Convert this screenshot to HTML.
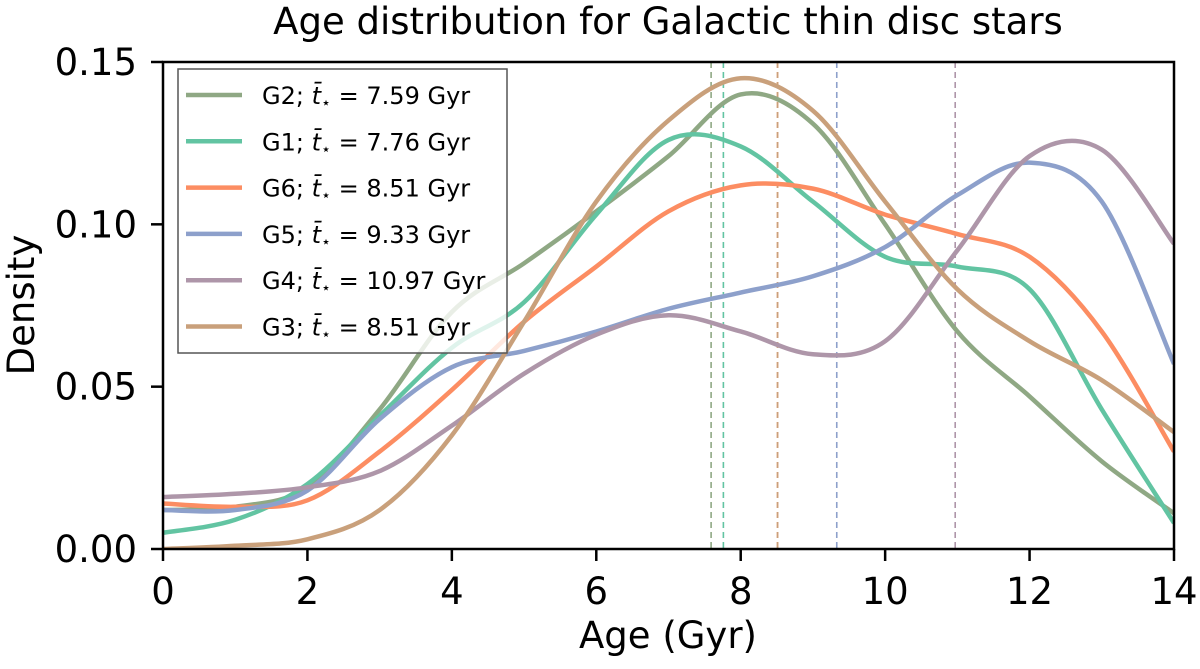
<!DOCTYPE html>
<html><head><meta charset="utf-8"><style>
body{margin:0;background:#fff;}
svg{display:block;font-family:"DejaVu Sans","Liberation Sans",sans-serif;}
</style></head><body>
<svg id="chart" width="1200" height="669" viewBox="0 0 1200 669" xmlns="http://www.w3.org/2000/svg">
<text x="668" y="34" font-size="37" text-anchor="middle">Age distribution for Galactic thin disc stars</text>
<g id="plot"></g>
<text x="668" y="648" font-size="37" text-anchor="middle">Age (Gyr)</text>
<text transform="translate(34,305) rotate(-90)" font-size="37" text-anchor="middle">Density</text>
</svg>
<script>
const ages = [0,1,2,3,4,5,6,7,8,9,10,11,12,13,14];
const seriesNames = ["G2","G1","G6","G5","G4","G3"];
const g2 = [0.012,0.013,0.019,0.043,0.073,0.088,0.104,0.121,0.140,0.131,0.100,0.067,0.047,0.027,0.011];
const g1 = [0.005,0.009,0.020,0.041,0.062,0.076,0.103,0.126,0.124,0.107,0.090,0.087,0.080,0.043,0.008];
const g6 = [0.014,0.013,0.015,0.030,0.049,0.070,0.087,0.104,0.112,0.111,0.103,0.097,0.090,0.067,0.030];
const g5 = [0.012,0.012,0.018,0.040,0.056,0.061,0.067,0.074,0.079,0.084,0.093,0.109,0.119,0.107,0.057];
const g4 = [0.016,0.017,0.019,0.024,0.038,0.054,0.066,0.072,0.067,0.060,0.064,0.092,0.121,0.123,0.094];
const g3 = [0.000,0.001,0.003,0.012,0.035,0.070,0.107,0.132,0.145,0.135,0.107,0.080,0.064,0.052,0.036];
const means = [7.59,7.76,8.51,9.33,10.97,8.51];
const legendPrefix = ["G2; ","G1; ","G6; ","G5; ","G4; ","G3; "];
const legendValues = ["7.59","7.76","8.51","9.33","10.97","8.51"];
const xTicks = [0,2,4,6,8,10,12,14];
const yTicks = [0,0.05,0.10,0.15];
const yTickLabels = ["0.00","0.05","0.10","0.15"];

const allSeries=[g2,g1,g6,g5,g4,g3];
const colors=["#8fa884","#62c4a2","#fc8d62","#8da0cb","#ae96a9","#c9a07b"];
const X0=163,X1=1174,Y0=549,Y1=62;
const xs=v=>X0+(v-0)/(14-0)*(X1-X0);
const ys=v=>Y0-(v/0.15)*(Y0-Y1);
const NS="http://www.w3.org/2000/svg";
const plot=document.getElementById('plot');
function mk(t,a,p){const e=document.createElementNS(NS,t);for(const k in a)e.setAttribute(k,a[k]);(p||plot).appendChild(e);return e;}
const clip=mk('clipPath',{id:'cp'});mk('rect',{x:X0,y:Y1,width:X1-X0,height:Y0-Y1},clip);
means.forEach((m,i)=>{const l=mk('line',{x1:xs(m),x2:xs(m),y1:Y1,y2:Y0,stroke:colors[i],'stroke-width':1.6,'stroke-dasharray':'6,4'});

});
function path(vals){const p=ages.map((a,i)=>[xs(a),ys(vals[i])]);let d='M'+p[0][0]+','+p[0][1];
for(let i=0;i<p.length-1;i++){const a=p[Math.max(i-1,0)],b=p[i],c=p[i+1],e=p[Math.min(i+2,p.length-1)];
d+=' C'+(b[0]+(c[0]-a[0])/6)+','+(b[1]+(c[1]-a[1])/6)+' '+(c[0]-(e[0]-b[0])/6)+','+(c[1]-(e[1]-b[1])/6)+' '+c[0]+','+c[1];}return d;}
allSeries.forEach((s,i)=>{const el=mk('path',{d:path(s),fill:'none',stroke:colors[i],'stroke-width':4.5,'clip-path':'url(#cp)'});

});
const lg=mk('g',{});


mk('rect',{x:178,y:69,width:329,height:284,fill:'rgba(255,255,255,0.8)',stroke:'#555','stroke-width':1.5},lg);
legendPrefix.forEach((p,i)=>{const y=95+i*46.3;
const ln=mk('line',{x1:186,x2:242,y1:y,y2:y,stroke:colors[i],'stroke-width':4.5},lg);


const tx=mk('text',{x:262,y:y+9,'font-size':24},lg);
tx.innerHTML=p+'<tspan font-style="italic">t\u0304</tspan><tspan font-size="16" dy="4">\u22c6</tspan><tspan dy="-4"> = '+legendValues[i]+' Gyr</tspan>';

});
const fr=mk('rect',{x:X0,y:Y1,width:X1-X0,height:Y0-Y1,fill:'none',stroke:'#000','stroke-width':2.5});


xTicks.forEach(v=>{mk('line',{x1:xs(v),x2:xs(v),y1:Y0,y2:Y0+12,stroke:'#000','stroke-width':2.5});
const t=mk('text',{x:xs(v),y:604,'font-size':37,'text-anchor':'middle'});t.textContent=v;

});
yTicks.forEach((v,i)=>{mk('line',{x1:X0-12,x2:X0,y1:ys(v),y2:ys(v),stroke:'#000','stroke-width':2.5});
const t=mk('text',{x:137,y:ys(v)+13,'font-size':37,'text-anchor':'end'});t.textContent=yTickLabels[i];

});
</script>
</body></html>
